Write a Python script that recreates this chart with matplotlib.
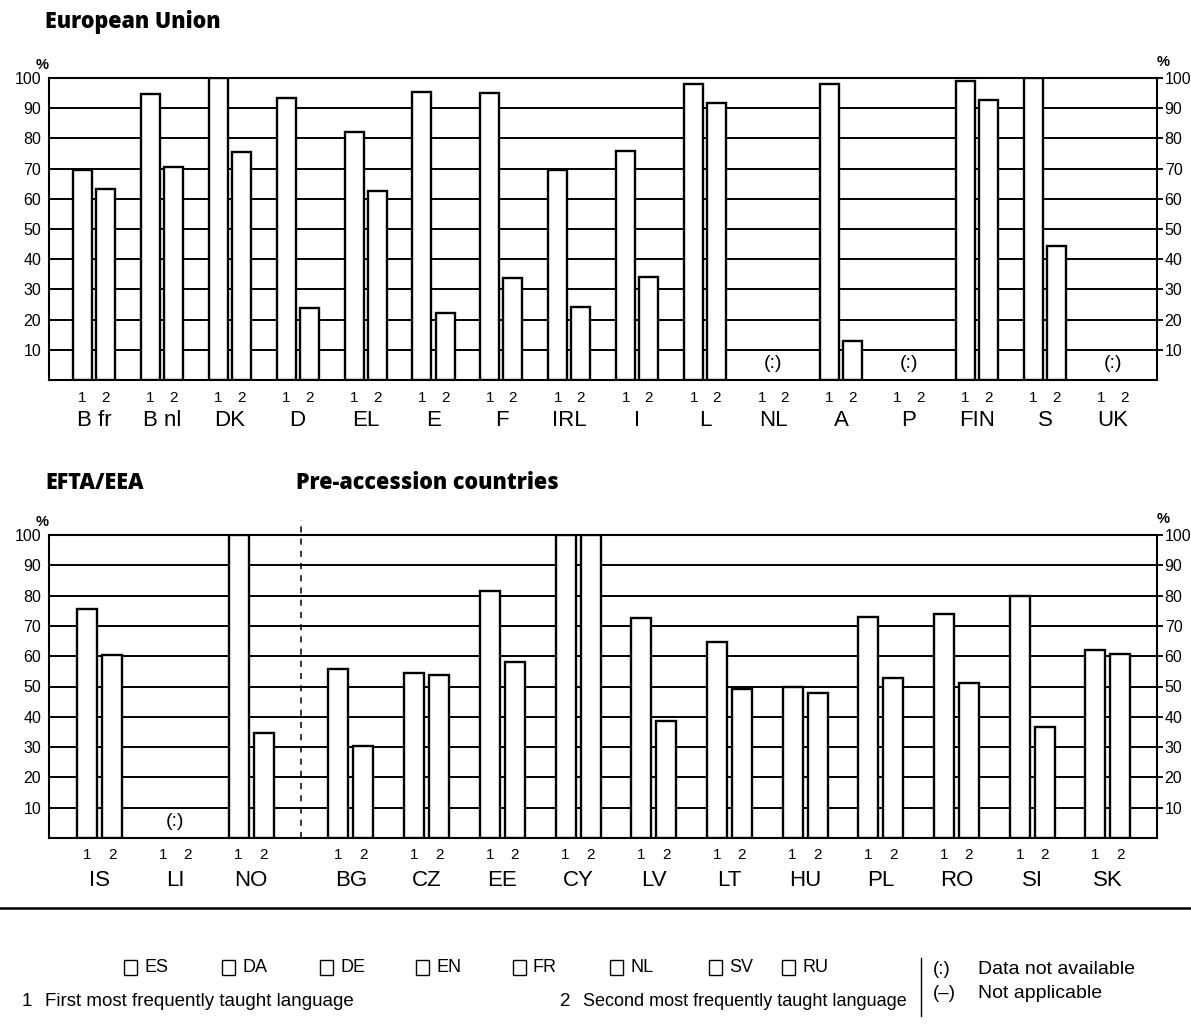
import numpy as np
import matplotlib
matplotlib.use('Agg')
import matplotlib.pyplot as plt
import matplotlib.transforms as mtransforms

plt.rcParams['font.family'] = ['Liberation Sans', 'DejaVu Sans']

nan = np.nan

# European Union: first / second most frequently taught language (%)
eu_countries = ['B fr', 'B nl', 'DK', 'D', 'EL', 'E', 'F', 'IRL', 'I', 'L',
                'NL', 'A', 'P', 'FIN', 'S', 'UK']
eu_first = [69.5, 94.6, 100, 93.3, 82.1, 95.3, 95.0, 69.4, 75.9, 97.9,
            nan, 98.1, nan, 99.0, 100, nan]
eu_second = [63.2, 70.5, 75.6, 23.9, 62.6, 22.1, 33.7, 24.3, 34.0, 91.8,
             nan, 13.0, nan, 92.7, 44.5, nan]

# EFTA/EEA
efta_countries = ['IS', 'LI', 'NO']
efta_first = [75.5, nan, 100]
efta_second = [60.5, nan, 34.8]

# Pre-accession countries
pre_countries = ['BG', 'CZ', 'EE', 'CY', 'LV', 'LT', 'HU', 'PL', 'RO', 'SI', 'SK']
pre_first = [55.8, 54.6, 81.6, 100, 72.5, 64.8, 49.9, 72.8, 74.0, 79.8, 62.0]
pre_second = [30.5, 53.9, 58.0, 100, 38.7, 49.1, 47.7, 52.7, 51.3, 36.7, 60.8]

legend_langs = ['ES', 'DA', 'DE', 'EN', 'FR', 'NL', 'SV', 'RU']

W, H = 1191, 1028
fig = plt.figure(figsize=(W / 100, H / 100), dpi=100)


def fx(px):
    return px / W


def fy(py):
    return 1 - py / H


def panel(rect, pos, first, second, names, width, off, xlim, lab_dy):
    ax = fig.add_axes(rect)
    ax.set_xlim(*xlim)
    ax.set_ylim(0, 100)
    pos = np.asarray(pos, dtype=float)
    first = np.asarray(first, dtype=float)
    second = np.asarray(second, dtype=float)
    ax.bar(pos - off, first, width, color='white', edgecolor='black', lw=1.7, zorder=3)
    ax.bar(pos + off, second, width, color='white', edgecolor='black', lw=1.7, zorder=3)
    for y in range(10, 100, 10):
        ax.axhline(y, color='black', lw=1.4, zorder=1)
    for s in ax.spines.values():
        s.set_linewidth(1.5)
    ax.set_xticks([])
    ax.set_yticks(range(10, 101, 10))
    ax.tick_params(axis='y', left=False, right=True, labelleft=True, labelright=True,
                   direction='out', length=4, width=1.3, labelsize=11.5, pad=1.5)
    ax.text(0.0, 1.02, '%', transform=ax.transAxes, fontsize=10.5, fontweight='bold',
            ha='right', va='bottom')
    ax.text(1.0, 1.03, '%', transform=ax.transAxes, fontsize=10.5, fontweight='bold',
            ha='left', va='bottom')
    tr = mtransforms.blended_transform_factory(ax.transData, ax.transAxes)
    for p, a, b, n in zip(pos, first, second, names):
        ax.text(p - off, -lab_dy[0], '1', transform=tr, ha='center', va='center', fontsize=11)
        ax.text(p + off, -lab_dy[0], '2', transform=tr, ha='center', va='center', fontsize=11)
        ax.text(p, -lab_dy[1], n, transform=tr, ha='center', va='center', fontsize=16)
        if np.isnan(a) and np.isnan(b):
            ax.text(p, 5.5, '(:)', ha='center', va='center', fontsize=14, zorder=4)
    return ax


# top panel: European Union
ax1 = panel([fx(49), fy(380), fx(1108), 302 / H], np.arange(len(eu_countries)),
            eu_first, eu_second, eu_countries, 0.28, 0.17, (-0.66, 15.65),
            (18 / 302, 41 / 302))

# bottom panel: EFTA/EEA + pre-accession
bottom_pos = list(range(len(efta_countries))) + [3.32 + k for k in range(len(pre_countries))]
ax2 = panel([fx(49), fy(838), fx(1108), 303 / H], bottom_pos,
            efta_first + pre_first, efta_second + pre_second,
            efta_countries + pre_countries, 0.264, 0.165, (-0.67, 13.97),
            (17 / 303, 42 / 303))
ax2.plot([2.66, 2.66], [0, 105], color='black', lw=1.1, ls=(0, (4, 4)), clip_on=False, zorder=2)

# titles
title_font = ['Open Sans', 'DejaVu Sans']
fig.text(fx(45), fy(22), 'European Union', fontsize=15.5, fontweight='heavy',
         family=title_font, va='center')
fig.text(fx(45), fy(483), 'EFTA/EEA', fontsize=15.5, fontweight='heavy',
         family=title_font, va='center')
fig.text(fx(296), fy(483), 'Pre-accession countries', fontsize=15.5, fontweight='heavy',
         family=title_font, va='center')

# separator line
fig.add_artist(plt.Line2D([0, 1], [fy(908), fy(908)], color='black', lw=1.8))

# legend row
sq_x = [130, 228, 326, 422, 519, 616, 715, 788]
for x, lang in zip(sq_x, legend_langs):
    fig.add_artist(plt.Rectangle((fx(x - 6), fy(975)), fx(13), 15 / H, facecolor='white',
                                 edgecolor='black', lw=1.0))
    fig.text(fx(x + 14), fy(967), lang, fontsize=13, va='center', ha='left')

fig.text(fx(22), fy(1001), '1', fontsize=13.5, va='center')
fig.text(fx(45), fy(1001), 'First most frequently taught language', fontsize=13.5, va='center')
fig.text(fx(560), fy(1001), '2', fontsize=13.5, va='center')
fig.text(fx(583), fy(1001), 'Second most frequently taught language', fontsize=13, va='center')
fig.add_artist(plt.Line2D([fx(921), fx(921)], [fy(1016), fy(958)], color='black', lw=1))
fig.text(fx(933), fy(970), '(:)', fontsize=13.5, va='center')
fig.text(fx(978), fy(970), 'Data not available', fontsize=14, va='center')
fig.text(fx(933), fy(993), '(\u2013)', fontsize=13.5, va='center')
fig.text(fx(978), fy(993), 'Not applicable', fontsize=14, va='center')

fig.savefig('out.png', dpi=100)
